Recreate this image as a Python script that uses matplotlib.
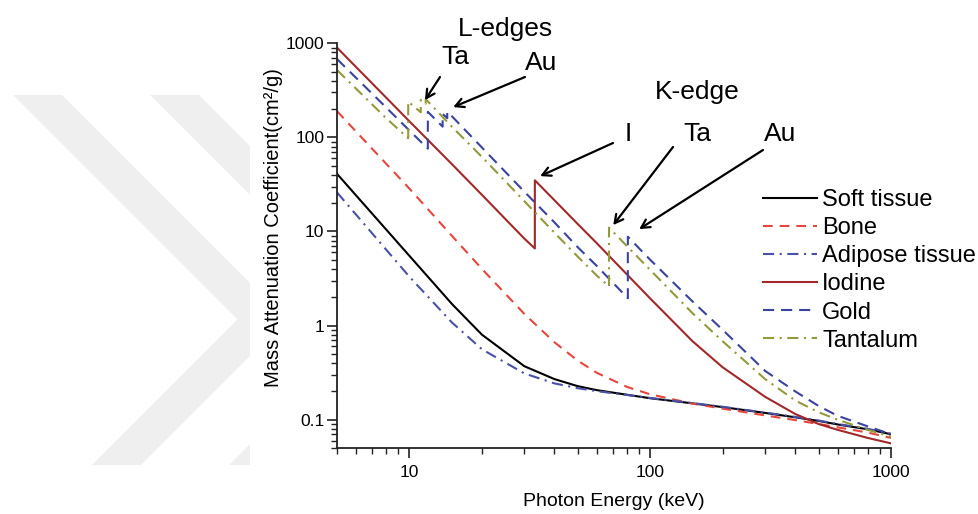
import matplotlib
matplotlib.use("Agg")
import matplotlib.pyplot as plt
from matplotlib.patches import Polygon, Rectangle
from matplotlib.ticker import FixedLocator, FuncFormatter, LogLocator, NullFormatter

W, H = 979, 514
plt.rcParams['font.family'] = ['Liberation Sans', 'DejaVu Sans']
plt.rcParams['lines.scale_dashes'] = False

# Mass attenuation coefficients (cm^2/g) versus photon energy (keV)
energy_tissue = [5, 10, 15, 20, 30, 40, 50, 60, 80, 100, 150, 200, 300, 400, 500, 600, 800, 1000]
soft_tissue = [41, 5.5, 1.7, 0.80, 0.37, 0.27, 0.227, 0.206, 0.184, 0.169, 0.149, 0.136,
               0.118, 0.106, 0.097, 0.089, 0.079, 0.070]
bone = [190, 28.5, 9.0, 4.0, 1.33, 0.665, 0.424, 0.315, 0.223, 0.186, 0.148, 0.131,
        0.111, 0.099, 0.090, 0.083, 0.073, 0.064]
adipose = [26, 3.3, 1.08, 0.56, 0.31, 0.243, 0.216, 0.201, 0.183, 0.170, 0.150, 0.137,
           0.119, 0.107, 0.098, 0.090, 0.080, 0.071]

energy_iodine = [5, 10, 15, 20, 30, 33.17, 33.17, 40, 50, 60, 80, 100, 150, 200, 300,
                 400, 500, 600, 800, 1000]
iodine = [900, 148, 52, 24.5, 8.4, 6.6, 35, 21.5, 12, 7.5, 3.5, 1.94, 0.68, 0.36, 0.175,
          0.115, 0.090, 0.078, 0.064, 0.056]

energy_gold = [5, 8, 10, 11.92, 11.92, 13.73, 13.73, 14.35, 14.35, 15, 20, 30, 40, 50, 60,
               80, 80.72, 80.72, 100, 150, 200, 300, 400, 500, 600, 800, 1000]
gold = [680, 208, 118, 76, 187, 130, 178, 160, 187, 168, 78, 26.5, 12.5, 6.8, 4.3,
        2.0, 1.95, 8.8, 5.0, 1.8, 0.9, 0.33, 0.20, 0.14, 0.11, 0.085, 0.070]

energy_tantalum = [5, 8, 9.88, 9.88, 11.14, 11.14, 11.68, 11.68, 15, 20, 30, 40, 50, 60,
                   67.42, 67.42, 80, 100, 150, 200, 300, 400, 500, 600, 800, 1000]
tantalum = [520, 160, 98, 240, 185, 250, 228, 255, 130, 62, 21, 9.7, 5.4, 3.4,
            2.6, 11, 7.0, 3.9, 1.35, 0.68, 0.27, 0.16, 0.12, 0.10, 0.078, 0.066]

x_ticks = [10, 100, 1000]
y_ticks = [0.1, 1, 10, 100, 1000]


def fpix(x, y):
    """Pixel position measured from the top-left corner -> figure fraction."""
    return x / W, 1 - y / H


fig = plt.figure(figsize=(W / 100, H / 100), dpi=100)
fig.patch.set_facecolor('white')

# faint chevron watermark in the left margin
clip = Rectangle((0, 1 - 465 / H), 250 / W, (465 - 95) / H, transform=fig.transFigure,
                 visible=False)
fig.patches.append(clip)
for dx in (0, 137):
    pts = [(13 + dx, 95), (62 + dx, 95), (286.5 + dx, 319.5), (141 + dx, 465),
           (92 + dx, 465), (237.5 + dx, 319.5)]
    poly = Polygon([fpix(*p) for p in pts], closed=True, transform=fig.transFigure,
                   facecolor='#efefef', edgecolor='none', zorder=0)
    poly.set_clip_path(clip)
    fig.patches.append(poly)

ax = fig.add_axes([337 / W, 1 - 448 / H, (891 - 337) / W, (448 - 43.3) / H])
ax.set_facecolor('none')

lw = 1.5
ax.plot(energy_tissue, soft_tissue, color='black', lw=lw, label='Soft tissue')
ax.plot(energy_tissue, bone, color='#e8463c', lw=lw, ls=(0, (7, 5)), label='Bone')
ax.plot(energy_tissue, adipose, color='#4a50a8', lw=lw, ls=(0, (8, 4, 1.5, 4)),
        label='Adipose tissue')
ax.plot(energy_iodine, iodine, color='#a3282a', lw=lw, label='Iodine')
ax.plot(energy_gold, gold, color='#3a43a0', lw=lw, ls=(0, (8, 5)), label='Gold')
ax.plot(energy_tantalum, tantalum, color='#949a3c', lw=lw, ls=(0, (8, 4, 1.5, 4)),
        label='Tantalum')

ax.set_xscale('log')
ax.set_yscale('log')
ax.set_xlim(5, 1000)
ax.set_ylim(0.05, 1000)
ax.xaxis.set_major_locator(FixedLocator(x_ticks))
ax.yaxis.set_major_locator(FixedLocator(y_ticks))
ax.xaxis.set_minor_locator(LogLocator(base=10, subs=range(2, 10), numticks=20))
ax.yaxis.set_minor_locator(LogLocator(base=10, subs=range(2, 10), numticks=20))
fmt = FuncFormatter(lambda v, _: f'{v:g}')
ax.xaxis.set_major_formatter(fmt)
ax.yaxis.set_major_formatter(fmt)
ax.xaxis.set_minor_formatter(NullFormatter())
ax.yaxis.set_minor_formatter(NullFormatter())

for side in ('top', 'right'):
    ax.spines[side].set_visible(False)
for side in ('left', 'bottom'):
    ax.spines[side].set_linewidth(1.3)
    ax.spines[side].set_color('#222222')
ax.tick_params(which='major', direction='out', length=7, width=1.2, labelsize=12.5,
               color='#222222')
ax.tick_params(which='minor', direction='out', length=4, width=1.0, color='#222222')
ax.tick_params(axis='x', which='major', pad=5)
ax.tick_params(axis='y', which='major', pad=2)

ax.set_xlabel('Photon Energy (keV)', fontsize=14)
ax.set_ylabel('Mass Attenuation Coefficient(cm\u00b2/g)', fontsize=14.5)
ax.xaxis.set_label_coords(0.5, -0.112)
ax.yaxis.set_label_coords((283 - 337) / 554, (448 - 228) / (448 - 43.3))

leg = ax.legend(loc='upper left', bbox_to_anchor=fpix(763, 189), bbox_transform=fig.transFigure,
                frameon=False, fontsize=17, handlelength=2.3, handletextpad=0.2,
                labelspacing=0.26, borderpad=0, borderaxespad=0)

# edge labels and arrows
txt = dict(fontsize=19, ha='center', va='center', transform=fig.transFigure)
fig.text(*fpix(505, 29), 'L-edges', **txt)
fig.text(*fpix(455, 57), 'Ta', **txt)
fig.text(*fpix(541, 63), 'Au', **txt)
fig.text(*fpix(697, 92), 'K-edge', **txt)
fig.text(*fpix(628, 134), 'I', **txt)
fig.text(*fpix(697, 134), 'Ta', **txt)
fig.text(*fpix(780, 134), 'Au', **txt)

arrow = dict(arrowstyle='->,head_length=0.6,head_width=0.32', color='black', lw=1.6,
             shrinkA=0, shrinkB=0)
ax.annotate('', xy=(11.6, 249), xytext=fpix(440, 77), textcoords='figure fraction',
            arrowprops=arrow)
ax.annotate('', xy=(15.2, 210), xytext=fpix(525, 77), textcoords='figure fraction',
            arrowprops=arrow)
ax.annotate('', xy=(34.9, 38.8), xytext=fpix(613, 143), textcoords='figure fraction',
            arrowprops=arrow)
ax.annotate('', xy=(70.2, 11.7), xytext=fpix(673, 147), textcoords='figure fraction',
            arrowprops=arrow)
ax.annotate('', xy=(90, 10.6), xytext=fpix(763, 150), textcoords='figure fraction',
            arrowprops=arrow)

fig.savefig('out.png', dpi=100)
